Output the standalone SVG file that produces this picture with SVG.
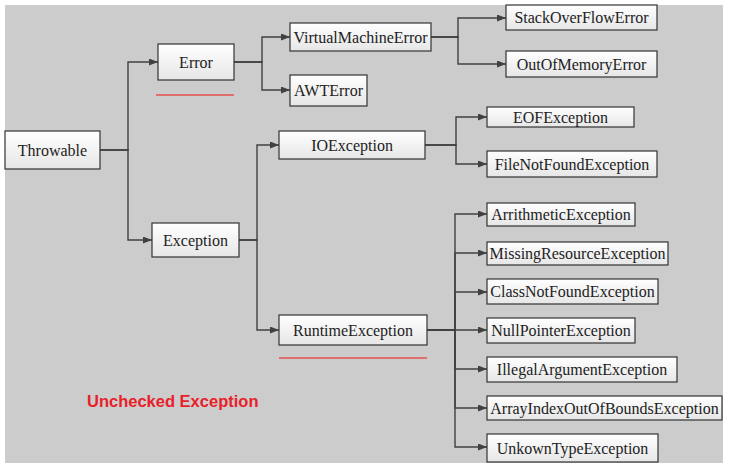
<svg xmlns="http://www.w3.org/2000/svg" width="731" height="473" viewBox="0 0 731 473">
<defs>
<linearGradient id="g" x1="0" y1="0" x2="0" y2="1"><stop offset="0" stop-color="#ffffff"/><stop offset="1" stop-color="#e6e6e6"/></linearGradient>
<marker id="arr" markerWidth="9" markerHeight="7" refX="9" refY="3.5" orient="auto" markerUnits="userSpaceOnUse"><path d="M0,0 L9,3.5 L0,7 z" fill="#404040"/></marker>
</defs>
<style>
.n rect{fill:url(#g);stroke:#333;stroke-width:1.2}
.n text{font-family:"Liberation Serif","Times New Roman",serif;font-size:16px;fill:#222;text-anchor:middle}
#connectors path{fill:none;stroke:#404040;stroke-width:1.4;marker-end:url(#arr)}
.u{stroke:#e07070;stroke-width:2}
</style>
<rect x="0" y="0" width="731" height="473" fill="#fff"/>
<rect x="5" y="5" width="718" height="458" fill="#cccccc"/>
<g id="connectors">
<path d="M100,150 H128 V62 H158"/>
<path d="M100,150 H128 V240 H152"/>
<path d="M234,62 H262 V37 H290"/>
<path d="M234,62 H262 V90 H290"/>
<path d="M431,37 H458 V18 H506"/>
<path d="M431,37 H458 V64 H506"/>
<path d="M239,240 H257 V145 H279"/>
<path d="M239,240 H257 V330 H279"/>
<path d="M425,145 H456 V117 H487"/>
<path d="M425,145 H456 V164 H487"/>
<path d="M427,330 H455 V214 H487"/>
<path d="M427,330 H455 V253 H487"/>
<path d="M427,330 H455 V292 H487"/>
<path d="M427,330 H487"/>
<path d="M427,330 H455 V369 H487"/>
<path d="M427,330 H455 V408 H487"/>
<path d="M427,330 H455 V447 H487"/>
</g>
<g id="throwable" class="n"><rect x="5" y="131" width="95" height="38"/><text x="52.5" y="155.5">Throwable</text></g>
<g id="error" class="n"><rect x="158" y="44" width="76" height="36"/><text x="196" y="67.5">Error</text></g>
<g id="exception" class="n"><rect x="152" y="223" width="87" height="34"/><text x="195.5" y="245.5">Exception</text></g>
<g id="vme" class="n"><rect x="290" y="23" width="141" height="28"/><text x="360.5" y="42.5">VirtualMachineError</text></g>
<g id="awterror" class="n"><rect x="290" y="75" width="77" height="31"/><text x="328.5" y="96">AWTError</text></g>
<g id="ioexception" class="n"><rect x="279" y="131" width="146" height="28"/><text x="352" y="150.5">IOException</text></g>
<g id="runtime" class="n"><rect x="279" y="315" width="148" height="30"/><text x="353" y="335.5">RuntimeException</text></g>
<g id="sof" class="n"><rect x="506" y="5" width="151" height="25"/><text x="581.5" y="23">StackOverFlowError</text></g>
<g id="oom" class="n"><rect x="506" y="51" width="151" height="26"/><text x="581.5" y="69.5">OutOfMemoryError</text></g>
<g id="eof" class="n"><rect x="487" y="107" width="147" height="20"/><text x="560.5" y="122.5">EOFException</text></g>
<g id="fnf" class="n"><rect x="487" y="151" width="170" height="26"/><text x="572" y="169.5">FileNotFoundException</text></g>
<g id="arith" class="n"><rect x="487" y="203" width="148" height="23"/><text x="561" y="220">ArrithmeticException</text></g>
<g id="missing" class="n"><rect x="487" y="242" width="181" height="23"/><text x="577.5" y="259">MissingResourceException</text></g>
<g id="cnf" class="n"><rect x="487" y="279" width="171" height="25"/><text x="572.5" y="297">ClassNotFoundException</text></g>
<g id="npe" class="n"><rect x="487" y="318" width="148" height="25"/><text x="561" y="336">NullPointerException</text></g>
<g id="iae" class="n"><rect x="487" y="357" width="190" height="25"/><text x="582" y="375">IllegalArgumentException</text></g>
<g id="aioobe" class="n"><rect x="487" y="396" width="235" height="24"/><text x="604.5" y="413.5">ArrayIndexOutOfBoundsException</text></g>
<g id="unknown" class="n"><rect x="487" y="434" width="171" height="28"/><text x="572.5" y="453.5">UnkownTypeException</text></g>
<line class="u" x1="156" y1="95" x2="234" y2="95"/>
<line class="u" x1="279" y1="358" x2="427" y2="358"/>
<text x="87" y="407" font-family="'Liberation Sans',Arial,sans-serif" font-weight="bold" font-size="16.5" fill="#e8202a">Unchecked Exception</text>
</svg>
